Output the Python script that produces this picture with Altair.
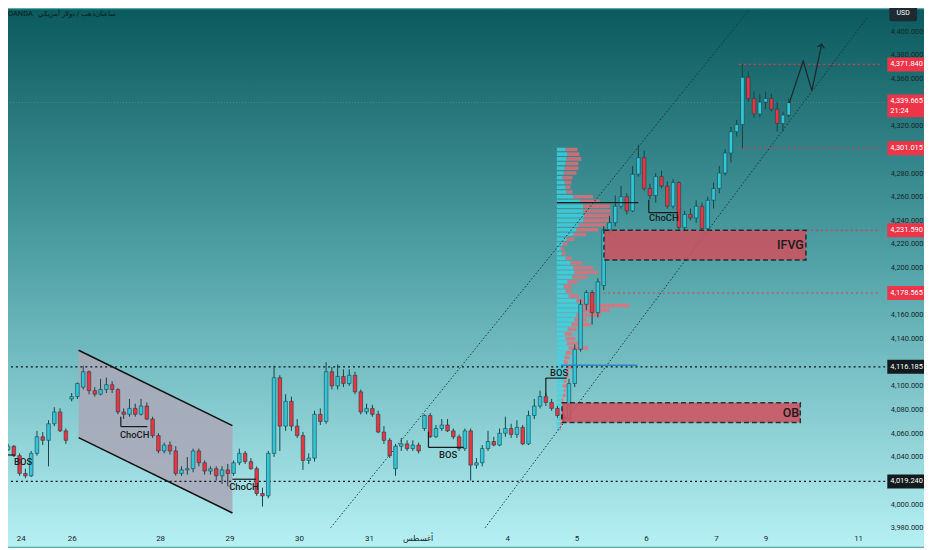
import altair as alt
import pandas as pd

TEAL = "#33c6d8"
RED = "#f0323f"
EDGE = "#15434a"
INK = "#17272a"

# 2h candles, price in USD
opens = [4046, 4049, 4041, 4026, 4024, 4043, 4057, 4054, 4068, 4078,
         4062, 4089, 4091, 4099, 4112, 4096, 4093, 4097, 4101, 4097,
         4078, 4076, 4081, 4076, 4083, 4072, 4058, 4045, 4050, 4045,
         4026, 4029, 4030, 4045, 4035, 4028, 4030, 4024, 4029, 4026,
         4035, 4043, 4036, 4030, 4009, 4007, 4043, 4107, 4066, 4087,
         4066, 4058, 4037, 4039, 4076, 4070, 4112, 4100, 4108, 4102,
         4109, 4095, 4078, 4081, 4076, 4061, 4054, 4030, 4049, 4051,
         4047, 4050, 4064, 4075, 4057, 4064, 4067, 4062, 4057, 4047,
         4062, 4033, 4035, 4047, 4053, 4050, 4060, 4064, 4059, 4065,
         4051, 4075, 4083, 4091, 4086, 4081, 4075, 4072, 4102, 4131,
         4169, 4179, 4162, 4185, 4232, 4238, 4252, 4260, 4248, 4279,
         4293, 4267, 4261, 4277, 4269, 4252, 4272, 4234, 4245, 4242,
         4252, 4233, 4257, 4267, 4280, 4297, 4315, 4321, 4361, 4343,
         4330, 4340, 4343, 4334, 4322, 4329]
closes = [4049, 4041, 4026, 4024, 4043, 4057, 4054, 4068, 4078, 4062,
          4054, 4091, 4102, 4112, 4096, 4093, 4097, 4101, 4097, 4078,
          4076, 4081, 4076, 4083, 4072, 4058, 4045, 4050, 4045, 4026,
          4029, 4030, 4045, 4035, 4028, 4030, 4024, 4029, 4026, 4035,
          4043, 4036, 4030, 4009, 4007, 4043, 4107, 4066, 4087, 4066,
          4058, 4037, 4039, 4076, 4070, 4112, 4100, 4108, 4102, 4109,
          4095, 4078, 4081, 4076, 4061, 4054, 4041, 4049, 4051, 4047,
          4050, 4045, 4075, 4057, 4064, 4067, 4062, 4057, 4047, 4062,
          4033, 4035, 4047, 4053, 4050, 4060, 4064, 4059, 4065, 4051,
          4075, 4083, 4091, 4086, 4081, 4075, 4072, 4102, 4131, 4169,
          4179, 4162, 4188, 4232, 4238, 4252, 4260, 4248, 4279, 4293,
          4267, 4261, 4277, 4269, 4252, 4272, 4234, 4245, 4242, 4252,
          4233, 4257, 4267, 4280, 4297, 4315, 4321, 4361, 4343, 4330,
          4340, 4343, 4334, 4322, 4329, 4339.665]
highs = [4051, 4050, 4043, 4030, 4045, 4062, 4061, 4071, 4082, 4081,
         4064, 4094, 4103, 4117, 4113, 4099, 4106, 4107, 4104, 4098,
         4081, 4089, 4085, 4089, 4086, 4074, 4060, 4052, 4053, 4049,
         4032, 4040, 4047, 4047, 4037, 4032, 4032, 4032, 4034, 4037,
         4047, 4045, 4039, 4032, 4014, 4045, 4117, 4109, 4093, 4091,
         4072, 4061, 4043, 4079, 4081, 4120, 4116, 4118, 4114, 4114,
         4112, 4097, 4085, 4084, 4079, 4066, 4056, 4051, 4056, 4054,
         4054, 4052, 4076, 4077, 4067, 4072, 4072, 4064, 4059, 4064,
         4064, 4039, 4050, 4062, 4057, 4064, 4074, 4068, 4071, 4067,
         4079, 4089, 4096, 4094, 4089, 4083, 4079, 4106, 4135, 4173,
         4181, 4181, 4191, 4235, 4244, 4261, 4269, 4263, 4286, 4304,
         4299, 4271, 4280, 4282, 4273, 4275, 4273, 4248, 4250, 4257,
         4255, 4260, 4272, 4286, 4300, 4319, 4325, 4371.84, 4366, 4349,
         4347, 4349, 4347, 4340, 4332, 4343]
lows = [4045, 4040, 4024, 4022, 4023, 4041, 4050, 4032, 4066, 4061,
        4051, 4087, 4089, 4097, 4093, 4091, 4092, 4094, 4094, 4076,
        4072, 4074, 4074, 4075, 4071, 4056, 4043, 4043, 4042, 4024,
        4024, 4025, 4027, 4032, 4025, 4025, 4020, 4017, 4015, 4024,
        4033, 4034, 4029, 4007, 3998, 4005, 4040, 4045, 4062, 4062,
        4056, 4029, 4034, 4036, 4067, 4068, 4097, 4097, 4099, 4100,
        4093, 4076, 4076, 4074, 4060, 4051, 4039, 4024, 4045, 4045,
        4045, 4043, 4062, 4056, 4056, 4062, 4061, 4055, 4045, 4045,
        4020, 4030, 4032, 4045, 4049, 4049, 4057, 4056, 4056, 4050,
        4050, 4072, 4081, 4083, 4079, 4073, 4069, 4071, 4099, 4129,
        4164, 4152, 4158, 4181, 4228, 4235, 4250, 4245, 4247, 4277,
        4265, 4258, 4255, 4267, 4250, 4250, 4232, 4232, 4240, 4238,
        4232, 4232, 4250, 4263, 4278, 4289, 4311, 4301.015, 4340, 4327,
        4327, 4334, 4332, 4315, 4315, 4327]

# day labels on the bar axis
tick_bars = [2.2, 11.0, 26.3, 38.3, 50.3, 62.4, 70.8, 86.3, 98.3, 110.3, 122.4, 131.0, 147.0]
tick_labels = ["24", "26", "28", "29", "30", "31", "أغسطس", "4", "5", "6", "7", "9", "11"]
price_ticks = [3980, 4000, 4040, 4060, 4080, 4100, 4140, 4160, 4200, 4220,
               4240, 4260, 4280, 4320, 4360, 4380, 4400]

# volume profile (buy / sell per price row)
vp_levels = [4300, 4296, 4292, 4288, 4284, 4280, 4276, 4272, 4268, 4264,
             4260, 4256, 4252, 4248, 4244, 4240, 4236, 4232, 4228, 4224,
             4220, 4216, 4212, 4208, 4204, 4200, 4196, 4192, 4188, 4184,
             4180, 4176, 4172, 4168, 4164, 4160, 4156, 4152, 4148, 4144,
             4140, 4136, 4132, 4128, 4124, 4120, 4116, 4112, 4108, 4104,
             4100, 4096, 4092, 4088, 4084, 4080, 4076, 4072, 4068, 4064]
vp_buy = [9, 11, 10, 9, 8, 7, 6, 8, 9, 10,
          17, 24, 27, 27, 28, 27, 22, 20, 17, 10,
          6, 4, 5, 9, 14, 17, 18, 16, 11, 7,
          9, 12, 20, 25, 24, 20, 18, 15, 11, 8,
          9, 10, 12, 9, 8, 7, 10, 9, 8, 7,
          6, 7, 6, 5, 6, 5, 4, 4, 3, 3]
vp_sell = [12, 12, 15, 13, 14, 13, 10, 7, 5, 6,
           20, 20, 27, 28, 27, 26, 28, 22, 13, 8,
           5, 3, 4, 6, 12, 20, 24, 15, 10, 8,
           6, 10, 18, 49, 30, 25, 12, 20, 9, 7,
           10, 16, 20, 6, 5, 4, 6, 3, 4, 3,
           4, 2, 3, 2, 2, 3, 2, 3, 2, 1]
VP_LEFT = 94.9
VP_UNIT = 1 / 5.9

# price levels marked on the chart
black_levels = [4116.185, 4019.24]
red_levels = [4371.84, 4301.015, 4231.59, 4178.565]
red_level_start = [126.4, 126.4, 138.0, 101.2]
last_price = 4339.665

# zones
zones = pd.DataFrame({
    "name": ["IFVG", "OB"],
    "x1": [103.05, 95.8], "x2": [137.97, 137.0],
    "top": [4231.59, 4085.7], "bottom": [4206.4, 4069.0],
    "lx": [137.6, 136.8], "ly": [4219.0, 4077.3],
})

# structure annotations
struct_lines = pd.DataFrame({
    "x1": [-0.5, 19.5, 19.5, 38.8, 72.7, 72.7, 93.0, 93.0, 94.9, 110.8, 110.8],
    "x2": [1.2, 24.1, 19.5, 42.9, 78.8, 72.7, 96.6, 93.0, 109.0, 115.9, 110.8],
    "y1": [4041.6, 4065.6, 4074.0, 4021.1, 4048.0, 4061.4, 4106.6, 4091.5, 4255.0, 4246.6, 4257.5],
    "y2": [4041.6, 4065.6, 4065.6, 4021.1, 4048.0, 4048.0, 4106.6, 4106.6, 4255.0, 4246.6, 4246.6],
})
struct_text = pd.DataFrame({
    "bar": [2.6, 21.9, 40.8, 76.1, 95.3, 113.4],
    "price": [4035.4, 4058.8, 4014.4, 4041.6, 4111.0, 4241.9],
    "label": ["BOS", "ChoCH", "ChoCH", "BOS", "BOS", "ChoCH"],
})
channel = pd.DataFrame({"bar": [12.2, 38.8], "top": [4130.1, 4066.4], "bottom": [4056.3, 3992.6]})
trend_lines = pd.DataFrame({
    "x1": [55.8, 82.5], "x2": [129.2, 148.6],
    "y1": [3980.1, 3980.1], "y2": [4424.3, 4411.7],
})
path = pd.DataFrame({"step": [0, 1, 2, 3],
                     "bar": [135.1, 137.5, 139.0, 140.7],
                     "price": [4339.1, 4374.8, 4349.7, 4389.0]})

X_DOMAIN = [0.85, 150.85]
Y_DOMAIN = [3977.5, 4417.6]

label_expr = " : ".join(
    f"datum.value == {b} ? '{t}'" for b, t in zip(tick_bars, tick_labels)
) + " : ''"

x_axis = alt.Axis(values=tick_bars, labelExpr=label_expr, title=None, grid=False,
                  domain=False, ticks=False, labelPadding=4, labelFontSize=8,
                  labelColor=INK, labelFont="Roboto", labelOverlap=False,
                  labelFlush=False, zindex=1)
y_axis = alt.Axis(values=price_ticks, format=",.3f", orient="right", title=None,
                  grid=False, domain=False, ticks=False, labelPadding=5,
                  labelFontSize=7.5, labelColor=INK, labelFont="Roboto",
                  labelAlign="left", labelOverlap=False, labelFlush=False, zindex=1)


def xq(field):
    return alt.X(field, type="quantitative",
                 scale=alt.Scale(domain=X_DOMAIN, nice=False, zero=False), axis=x_axis)


def yq(field):
    return alt.Y(field, type="quantitative",
                 scale=alt.Scale(domain=Y_DOMAIN, nice=False, zero=False), axis=y_axis)


one = pd.DataFrame({"k": [0]})
FULL_W = 924

background = alt.Chart(one).mark_rect(
    fill=alt.LinearGradient(
        gradient="linear", x1=0, x2=0, y1=0, y2=1,
        stops=[alt.GradientStop(color="#0b5a5d", offset=0),
               alt.GradientStop(color="#4d9fa4", offset=0.45),
               alt.GradientStop(color="#b6f0f4", offset=1)],
    ),
    clip=False,
).encode(x=alt.value(0), x2=alt.value(FULL_W), y=alt.value(-1), y2=alt.value(541))

channel_fill = alt.Chart(channel).mark_area(color="#a9a8b8", opacity=0.9, clip=True).encode(
    x=xq("bar"), y=yq("top"), y2=alt.Y2("bottom"))
channel_edges = alt.Chart(channel).mark_line(color="#111111", strokeWidth=1.6, clip=True).encode(
    x=xq("bar"), y=yq("top"))
channel_edges2 = alt.Chart(channel).mark_line(color="#111111", strokeWidth=1.6, clip=True).encode(
    x=xq("bar"), y=yq("bottom"))

vp = pd.DataFrame({"level": vp_levels, "buy": vp_buy, "sell": vp_sell})
vp_base = alt.Chart(vp).transform_calculate(
    x0=f"{VP_LEFT}",
    x1=f"{VP_LEFT} + datum.buy * {VP_UNIT}",
    x2=f"{VP_LEFT} + (datum.buy + datum.sell) * {VP_UNIT}",
    top="datum.level + 1.5",
    bot="datum.level - 1.5",
)
vp_buy_layer = vp_base.mark_rect(color="#3fd3e4", opacity=0.8, clip=True).encode(
    x=xq("x0"), x2=alt.X2("x1"), y=yq("top"), y2=alt.Y2("bot"))
vp_sell_layer = vp_base.mark_rect(color="#ec6a76", opacity=0.8, clip=True).encode(
    x=xq("x1"), x2=alt.X2("x2"), y=yq("top"), y2=alt.Y2("bot"))

candles = pd.DataFrame({"bar": list(range(len(closes))), "open": opens,
                        "high": highs, "low": lows, "close": closes})
candles["fill"] = [TEAL if c >= o else RED for o, c in zip(opens, closes)]

wicks = alt.Chart(candles).mark_rule(color=EDGE, strokeWidth=1, clip=True).encode(
    x=xq("bar"), y=yq("low"), y2=alt.Y2("high"))
bodies = alt.Chart(candles).mark_bar(size=3.6, stroke=EDGE, strokeWidth=0.6, clip=True).encode(
    x=xq("bar"), y=yq("open"), y2=alt.Y2("close"),
    color=alt.Color("fill:N", scale=None))

trend = alt.Chart(trend_lines).mark_rule(color="#17343a", strokeWidth=1,
                                         strokeDash=[1.5, 2], clip=True).encode(
    x=xq("x1"), x2=alt.X2("x2"), y=yq("y1"), y2=alt.Y2("y2"))

lvl_black = alt.Chart(pd.DataFrame({"price": black_levels})).mark_rule(
    color="#0c1416", strokeWidth=1.3, strokeDash=[2, 3], clip=True).encode(
    y=yq("price"))
lvl_red = alt.Chart(pd.DataFrame({"price": red_levels, "start": red_level_start,
                                  "end": [X_DOMAIN[1]] * len(red_levels)})).mark_rule(
    color="#e4384a", strokeWidth=1.2, strokeDash=[2, 3], clip=True).encode(
    x=xq("start"), x2=alt.X2("end"), y=yq("price"))
lvl_last = alt.Chart(pd.DataFrame({"price": [last_price]})).mark_rule(
    color="#7d8f93", opacity=0.6, strokeWidth=1, strokeDash=[1, 2], clip=True).encode(
    y=yq("price"))

zone_rects = alt.Chart(zones).mark_rect(
    color="#d24f5d", opacity=0.85, stroke="#1a1a1a", strokeWidth=1.5,
    strokeDash=[5, 3], clip=True).encode(
    x=xq("x1"), x2=alt.X2("x2"), y=yq("top"), y2=alt.Y2("bottom"))
zone_text = alt.Chart(zones).mark_text(
    align="right", baseline="middle", fontSize=12.5, font="Roboto",
    fontWeight=500, color="#1a1a1a", clip=True).encode(
    x=xq("lx"), y=yq("ly"), text="name:N")

struct = alt.Chart(struct_lines).mark_rule(color="#161c1e", strokeWidth=1.2, clip=True).encode(
    x=xq("x1"), x2=alt.X2("x2"), y=yq("y1"), y2=alt.Y2("y2"))
blue_line = alt.Chart(pd.DataFrame({"x1": [95.6], "x2": [108.8], "p": [4117.5]})).mark_rule(
    color="#2b86c0", strokeWidth=1.5, clip=True).encode(
    x=xq("x1"), x2=alt.X2("x2"), y=yq("p"))
struct_labels = alt.Chart(struct_text).mark_text(
    fontSize=9.5, font="Roboto", fontWeight=500, color="#172022",
    baseline="middle", clip=True).encode(
    x=xq("bar"), y=yq("price"), text="label:N")

projection = alt.Chart(path).mark_line(color="#1b2a30", strokeWidth=1.3, clip=True).encode(
    x=xq("bar"), y=yq("price"), order="step:Q")
arrow = alt.Chart(path.tail(1)).mark_point(
    shape="M -1 1 L 0 0 L 1 1", filled=False, size=50, angle=12,
    color="#1b2a30", strokeWidth=1.3, opacity=1).encode(
    x=xq("bar"), y=yq("price"))

# right-hand price tags
tags = pd.DataFrame({
    "price": [4371.84, 4301.015, 4231.59, 4178.565, 4116.185, 4019.24],
    "label": ["4,371.840", "4,301.015", "4,231.590", "4,178.565", "4,116.185", "4,019.240"],
    "fill": ["#ee3448", "#ee3448", "#ee3448", "#ee3448", "#131a1e", "#131a1e"],
})
tag_base = alt.Chart(tags).transform_calculate(top="datum.price + 5.9", bot="datum.price - 5.9")
tag_boxes = tag_base.mark_rect(clip=False).encode(
    x=alt.value(887), x2=alt.value(FULL_W), y=yq("top"), y2=alt.Y2("bot"),
    color=alt.Color("fill:N", scale=None))
tag_text = alt.Chart(tags).mark_text(
    align="left", baseline="middle", fontSize=7.5, font="Roboto", color="white", clip=False).encode(
    x=alt.value(890), y=yq("price"), text="label:N")

now_tag = pd.DataFrame({"top": [4346.4], "bot": [4327.1]})
now_box = alt.Chart(now_tag).mark_rect(color="#ee3448", clip=False).encode(
    x=alt.value(887), x2=alt.value(FULL_W), y=yq("top"), y2=alt.Y2("bot"))
now_text = alt.Chart(pd.DataFrame({"price": [4341.3, 4332.1],
                                   "label": ["4,339.665", "21:24"]})).mark_text(
    align="left", baseline="middle", fontSize=7.5, font="Roboto", color="white", clip=False).encode(
    x=alt.value(890), y=yq("price"), text="label:N")

usd_box = alt.Chart(one).mark_rect(color="#1d2a31", cornerRadius=2, clip=False).encode(
    x=alt.value(889), x2=alt.value(917), y=alt.value(-5), y2=alt.value(11))
usd_text = alt.Chart(one).mark_text(
    text="USD", fontSize=7, font="Roboto", color="white", align="center",
    baseline="middle", clip=False).encode(x=alt.value(903), y=alt.value(3))

header = alt.Chart(pd.DataFrame({"px": [0, 30, 88],
                                 "label": ["OANDA", "ذهب / دولار أمريكي", "ساعتان"]})).mark_text(
    fontSize=7.5, font="Roboto", color="#061a1c", align="left", baseline="middle", clip=False).encode(
    x=alt.X("px:Q", scale=None), y=alt.value(4), text="label:N")

chart = alt.layer(
    background, channel_fill, channel_edges, channel_edges2, vp_buy_layer, vp_sell_layer,
    trend, lvl_last, lvl_black, lvl_red, wicks, bodies, zone_rects, zone_text,
    struct, blue_line, struct_labels, projection, arrow,
    tag_boxes, tag_text, now_box, now_text, usd_box, usd_text, header,
).properties(
    width=885, height=525,
    autosize=alt.AutoSizeParams(type="none"),
    padding={"left": 0, "top": 0, "right": FULL_W - 885, "bottom": 15},
    background="#5aa9ae",
).configure_view(stroke=None)

chart.save("out.html", embed_options={"renderer": "svg", "actions": False})
